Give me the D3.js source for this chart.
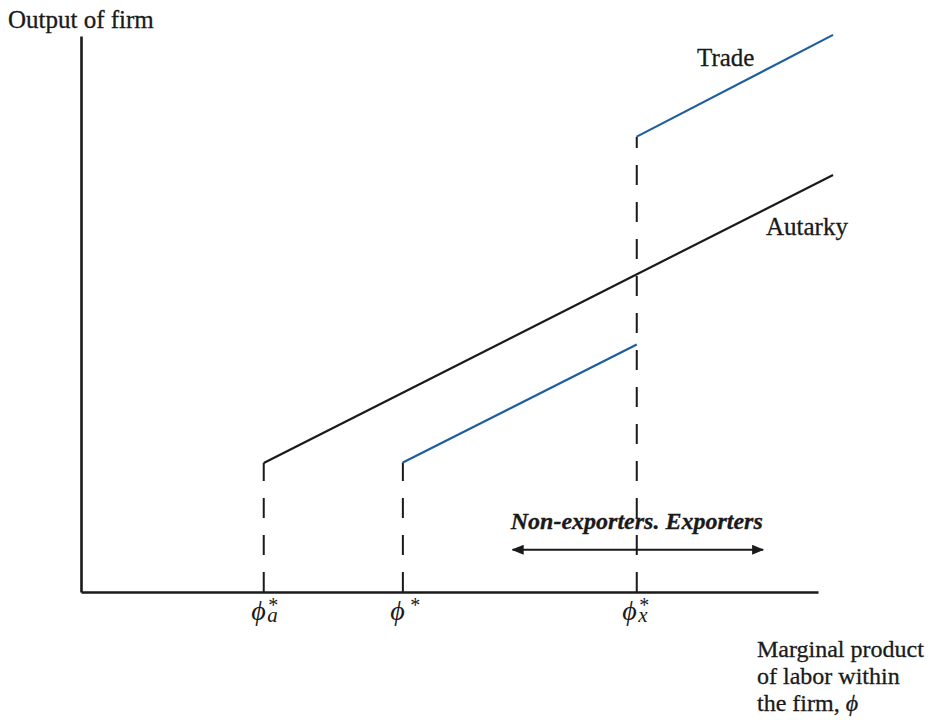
<!DOCTYPE html>
<html>
<head>
<meta charset="utf-8">
<script src="https://cdn.jsdelivr.net/npm/d3@7"></script>
<style>
  html, body { margin: 0; padding: 0; background: #fff; }
  svg { display: block; font-family: "Liberation Serif", "DejaVu Serif", serif; }
</style>
</head>
<body>
<svg id="chart" width="929" height="720"></svg>
<script>
// Productivity cutoffs on the horizontal axis
const cutoffNames = ["a", "", "x"];
const cutoffValues = [2.43, 4.28, 7.39];

// Autarky output line: from the autarky cutoff to the right edge
const autarkyX = [2.43, 10];
const autarkyY = [2.32, 7.50];

// Trade output: domestic-only firms, then exporters (jump at the export cutoff)
const tradeLowX = [4.28, 7.39];
const tradeLowY = [2.33, 4.45];
const tradeHighX = [7.39, 10];
const tradeHighY = [8.19, 10.02];

// Double-headed arrow separating non-exporters from exporters
const arrowX = [5.74, 9.07];
const arrowY = 0.76;

const serif = "'Liberation Serif', 'DejaVu Serif', serif";
const svg = d3.select("#chart");
const x = d3.scaleLinear().domain([0, 9.8]).range([81, 818]);
const y = d3.scaleLinear().domain([0, 10]).range([592, 36]);

const blue = "#1d5e9e";
const ink = "#1a1a1a";

// Dashed guides from the axis up to each cutoff's output level
const guideTops = [autarkyY[0], tradeLowY[0], tradeHighY[0]];
svg.append("g")
  .selectAll("line")
  .data(cutoffValues)
  .join("line")
  .attr("x1", d => x(d)).attr("x2", d => x(d))
  .attr("y1", y(0)).attr("y2", (d, i) => y(guideTops[i]))
  .attr("stroke", ink)
  .attr("stroke-width", 2)
  .attr("stroke-dasharray", "20,17");

const line = d3.line().x(d => x(d[0])).y(d => y(d[1]));
const segments = [
  { xs: autarkyX, ys: autarkyY, color: ink },
  { xs: tradeLowX, ys: tradeLowY, color: blue },
  { xs: tradeHighX, ys: tradeHighY, color: blue }
];
svg.append("g")
  .selectAll("path")
  .data(segments)
  .join("path")
  .attr("d", s => line(d3.zip(s.xs, s.ys)))
  .attr("fill", "none")
  .attr("stroke", s => s.color)
  .attr("stroke-width", 2.2);

// Axes
const xAxis = svg.append("g")
  .attr("transform", `translate(0,${y(0)})`)
  .call(d3.axisBottom(x).tickValues(cutoffValues).tickSize(0).tickSizeOuter(0))
  .attr("font-family", serif);
xAxis.select(".domain").attr("stroke", ink).attr("stroke-width", 2.6);

// Cutoff labels: phi with a star above and the cutoff name below it
xAxis.selectAll(".tick text").remove();
xAxis.selectAll(".tick").each(function (d, i) {
  const g = d3.select(this);
  const shift = i === 2 ? -2 : 0;
  g.append("text")
    .attr("x", -13 + shift).attr("y", 28)
    .attr("font-family", serif)
    .attr("font-size", 28).attr("font-style", "italic")
    .attr("fill", ink).attr("text-anchor", "start")
    .text("\u03D5");
  g.append("text")
    .attr("x", 4 + shift + (cutoffNames[i] ? 0 : 3)).attr("y", 20)
    .attr("font-family", serif)
    .attr("font-size", 20).attr("fill", ink).attr("text-anchor", "start")
    .text("*");
  if (cutoffNames[i]) {
    g.append("text")
      .attr("x", 3 + shift).attr("y", 30)
      .attr("font-family", serif)
      .attr("font-size", 21).attr("font-style", "italic")
      .attr("fill", ink).attr("text-anchor", "start")
      .text(cutoffNames[i]);
  }
});

const yAxis = svg.append("g")
  .attr("transform", `translate(${x(0)},0)`)
  .call(d3.axisLeft(y).tickValues([]).tickSize(0).tickSizeOuter(0));
yAxis.select(".domain").attr("stroke", ink).attr("stroke-width", 2.6);

// Arrow between the two firm groups
const defs = svg.append("defs");
defs.append("marker")
  .attr("id", "head")
  .attr("viewBox", "0 0 12 10")
  .attr("refX", 11).attr("refY", 5)
  .attr("markerWidth", 12).attr("markerHeight", 10)
  .attr("markerUnits", "userSpaceOnUse")
  .attr("orient", "auto-start-reverse")
  .append("path").attr("d", "M0,0 L12,5 L0,10 Z").attr("fill", ink);

svg.append("line")
  .attr("x1", x(arrowX[0])).attr("x2", x(arrowX[1]))
  .attr("y1", y(arrowY)).attr("y2", y(arrowY))
  .attr("stroke", ink).attr("stroke-width", 2)
  .attr("marker-start", "url(#head)")
  .attr("marker-end", "url(#head)");

// Text labels
const txt = (xp, yp, s, opts = {}) => svg.append("text")
  .attr("x", xp).attr("y", yp)
  .attr("font-size", opts.size || 25)
  .attr("font-style", opts.italic ? "italic" : null)
  .attr("font-weight", opts.bold ? "bold" : null)
  .attr("text-anchor", opts.anchor || "start")
  .attr("fill", ink)
  .attr("stroke", ink).attr("stroke-width", 0.3)
  .text(s);

txt(8, 28, "Output of firm");
txt(697, 66, "Trade");
txt(766, 235, "Autarky");
txt(x(cutoffValues[2]), 529, "Non-exporters. Exporters", { italic: true, bold: true, anchor: "middle", size: 24 });

const xTitle = svg.append("text").attr("font-size", 24).attr("fill", ink)
  .attr("stroke", ink).attr("stroke-width", 0.3);
xTitle.append("tspan").attr("x", 757).attr("y", 657).text("Marginal product");
xTitle.append("tspan").attr("x", 757).attr("y", 684).text("of labor within");
xTitle.append("tspan").attr("x", 757).attr("y", 711).text("the firm, ");
xTitle.append("tspan").attr("font-style", "italic").text("\u03D5");
</script>
</body>
</html>
